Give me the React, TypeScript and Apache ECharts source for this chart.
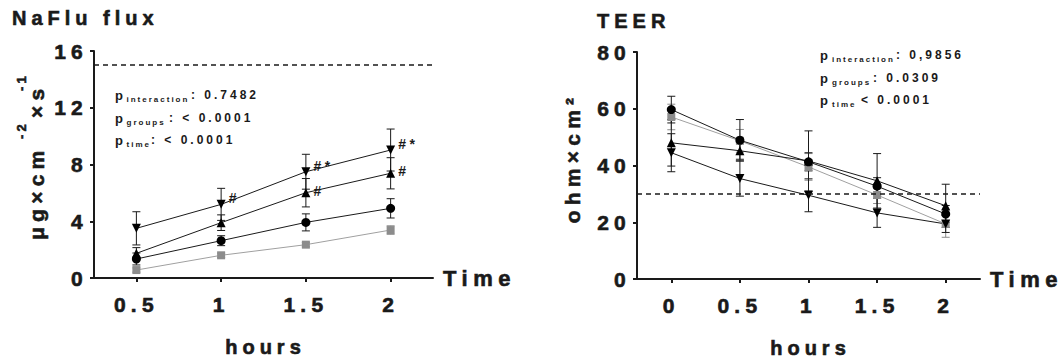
import React, { useEffect, useRef } from "react";
import * as echarts from "echarts";

// ---------- data ----------
const fluxTimes = ["0.5", "1", "1.5", "2"];
const teerTimes = ["0", "0.5", "1", "1.5", "2"];

const fluxDown = [3.5, 5.19, 7.49, 9.02];
const fluxDownSd = [1.17, 1.13, 1.23, 1.48];
const fluxUp = [1.74, 3.9, 6.01, 7.38];
const fluxUpSd = [0.4, 0.55, 1.0, 1.1];
const fluxCircle = [1.34, 2.63, 3.92, 4.91];
const fluxCircleSd = [0.42, 0.35, 0.6, 0.68];
const fluxSquare = [0.56, 1.6, 2.35, 3.38];
const fluxSquareSd = [0.15, 0.15, 0.15, 0.3];
const fluxDownMarks = ["", "#", "#*", "#*"];
const fluxUpMarks = ["", "", "#", "#"];
const fluxLimit = 15;
const fluxMax = 16;
const fluxStep = 4;

const teerCircle = [59.7, 48.9, 41.3, 32.7, 22.9];
const teerCircleSd = [4.7, 7.3, 3.2, 3, 3];
const teerSquare = [57.1, 48.7, 39.5, 29.6, 19.4];
const teerSquareSd = [4.5, 4, 4.7, 3, 4.7];
const teerUp = [48, 45.2, 41.6, 34.6, 25.8];
const teerUpSd = [8.2, 3, 10.6, 9.6, 7.6];
const teerDown = [44.5, 35.4, 29.5, 23.3, 19.4];
const teerDownSd = [6.7, 6.2, 5.8, 5.1, 3];
const teerLimit = 30;
const teerMax = 80;
const teerStep = 20;

const fluxTitle = "NaFlu flux";
const teerTitle = "TEER";
const xUnit = "hours";
const xName = "Time";
const fluxStats = [
  ["p", "interaction", ": 0.7482"],
  ["p", "groups", ": < 0.0001"],
  ["p", "time", ": < 0.0001"],
];
const teerStats = [
  ["p", "interaction", ": 0,9856"],
  ["p", "groups", ": 0.0309"],
  ["p", "time", "< 0.0001"],
];

// ---------- styling ----------
const FONT = "'Liberation Sans', Arial, sans-serif";
const INK = "#1a1a1a";
const GREY = "#8c8c8c";
const GREY_LINE = "#a0a0a0";
const HEAVY = { textBorderColor: INK, textBorderWidth: 0.6 };

const G1 = { left: 94, top: 51, width: 339, height: 227 };
const G2 = { left: 637, top: 52, width: 343, height: 227 };

function errorSeries(values: number[], sds: number[], idx: number, color: string) {
  return {
    type: "custom",
    xAxisIndex: idx,
    yAxisIndex: idx,
    silent: true,
    z: 2,
    data: values.map((v, i) => [i, v - sds[i], v + sds[i]]),
    encode: { x: 0, y: [1, 2] },
    renderItem: (params: any, api: any) => {
      const lo = api.coord([api.value(0), api.value(1)]);
      const hi = api.coord([api.value(0), api.value(2)]);
      const hw = 4;
      const style = { stroke: color, lineWidth: 1 };
      return {
        type: "group",
        children: [
          { type: "line", shape: { x1: lo[0], y1: lo[1], x2: hi[0], y2: hi[1] }, style },
          { type: "line", shape: { x1: hi[0] - hw, y1: hi[1], x2: hi[0] + hw, y2: hi[1] }, style },
          { type: "line", shape: { x1: lo[0] - hw, y1: lo[1], x2: lo[0] + hw, y2: lo[1] }, style },
        ],
      };
    },
  };
}

function lineSeries(
  values: number[],
  idx: number,
  symbol: string,
  rotate: number,
  color: string,
  lineColor: string,
  marks?: string[],
  offsetY?: number,
  limit?: number
) {
  const s: any = {
    type: "line",
    xAxisIndex: idx,
    yAxisIndex: idx,
    data: values,
    symbol,
    symbolRotate: rotate,
    symbolSize: symbol === "circle" ? 9 : symbol === "rect" ? 8 : 9,
    itemStyle: { color, opacity: 1 },
    lineStyle: { color: lineColor, width: 1 },
    z: 3,
    silent: true,
  };
  if (marks) {
    s.label = {
      show: true,
      position: "right",
      distance: 3,
      offset: [0, offsetY || 0],
      formatter: (p: any) => marks[p.dataIndex],
      fontSize: 14,
      fontWeight: "bold",
      fontFamily: FONT,
      color: INK,
    };
  }
  if (limit !== undefined) {
    s.markLine = {
      silent: true,
      symbol: "none",
      label: { show: false },
      lineStyle: { type: [5, 4], color: INK, width: 1.5 },
      data: [{ yAxis: limit }],
    };
  }
  return s;
}

function xAxis(idx: number, data: string[]) {
  return {
    gridIndex: idx,
    type: "category",
    data,
    boundaryGap: true,
    name: xName,
    nameLocation: "end",
    nameGap: 10,
    nameTextStyle: { fontSize: 22, fontWeight: "bold", fontFamily: FONT, color: INK, verticalAlign: "middle", ...HEAVY },
    axisLine: { show: true, lineStyle: { color: INK, width: 2 } },
    axisTick: { show: true, alignWithLabel: true, length: 4, lineStyle: { color: INK, width: 2 } },
    axisLabel: { interval: 0, fontSize: 21, fontWeight: "bold", fontFamily: FONT, color: INK, margin: 16, ...HEAVY },
    splitLine: { show: false },
  };
}

function yAxis(idx: number, max: number, step: number) {
  return {
    gridIndex: idx,
    type: "value",
    min: 0,
    max,
    interval: step,
    axisLine: { show: true, lineStyle: { color: INK, width: 2 } },
    axisTick: { show: true, length: 4, lineStyle: { color: INK, width: 2 } },
    axisLabel: { fontSize: 21, fontWeight: "bold", fontFamily: FONT, color: INK, margin: 6, ...HEAVY },
    splitLine: { show: false },
  };
}

function txt(x: number, y: number, text: string, size: number, extra: any = {}, rotation = 0) {
  const align = extra.align || "left";
  const heavy = extra.heavy ? { stroke: INK, lineWidth: 0.6 } : {};
  return {
    type: "text",
    x,
    y,
    rotation,
    silent: true,
    style: {
      text,
      fontSize: size,
      fontWeight: "bold",
      fontFamily: FONT,
      fill: INK,
      align,
      textAlign: align,
      verticalAlign: "middle",
      textVerticalAlign: "middle",
      ...heavy,
    },
  };
}

function statsBlock(rows: string[][], x: number, ys: number[], subX: number, restX: number[]) {
  const out: any[] = [];
  rows.forEach((r, i) => {
    out.push(txt(x, ys[i], r[0], 13));
    out.push(txt(subX, ys[i] + 4, r[1], 8));
    out.push(txt(restX[i], ys[i], r[2], 12));
  });
  return out;
}

export default function App() {
  const ref = useRef<HTMLDivElement>(null);
  useEffect(() => {
    document.body.style.margin = "0";
    if (!ref.current) return;
    const chart = echarts.init(ref.current, undefined, { renderer: "svg" });
    const graphic: any[] = [
      txt(12, 18, fluxTitle, 20, { heavy: true }),
      txt(597, 21, teerTitle, 20, { heavy: true }),
      txt(G1.left + G1.width / 2 + 2, 347, xUnit, 20, { align: "center", heavy: true }),
      txt(G2.left + G2.width / 2 + 2, 348, xUnit, 20, { align: "center", heavy: true }),
      // left y-axis title with superscripts
      txt(36, 240, "μg×cm", 21, { heavy: true }, Math.PI / 2),
      txt(21, 139, "-2", 13, { heavy: true }, Math.PI / 2),
      txt(36, 118, "×s", 21, { heavy: true }, Math.PI / 2),
      txt(21, 91, "-1", 13, { heavy: true }, Math.PI / 2),
      // right y-axis title
      txt(572, 158, "ohm×cm²", 21, { align: "center", heavy: true }, Math.PI / 2),
      ...statsBlock(fluxStats, 115, [95, 118, 140], 126.5, [191, 169, 151]),
      ...statsBlock(teerStats, 820, [55, 78, 100], 832, [896, 873, 861]),
    ];

    chart.setOption({
      animation: false,
      grid: [
        { ...G1, containLabel: false },
        { ...G2, containLabel: false },
      ],
      xAxis: [xAxis(0, fluxTimes), xAxis(1, teerTimes)],
      yAxis: [yAxis(0, fluxMax, fluxStep), yAxis(1, teerMax, teerStep)],
      graphic,
      series: [
        errorSeries(fluxSquare, fluxSquareSd, 0, GREY),
        errorSeries(fluxCircle, fluxCircleSd, 0, INK),
        errorSeries(fluxUp, fluxUpSd, 0, INK),
        errorSeries(fluxDown, fluxDownSd, 0, INK),
        lineSeries(fluxSquare, 0, "rect", 0, GREY, GREY_LINE, undefined, 0, fluxLimit),
        lineSeries(fluxCircle, 0, "circle", 0, "#000", INK),
        lineSeries(fluxUp, 0, "triangle", 0, "#000", INK, fluxUpMarks, -2),
        lineSeries(fluxDown, 0, "triangle", 180, "#000", INK, fluxDownMarks, -6),

        errorSeries(teerSquare, teerSquareSd, 1, GREY),
        errorSeries(teerCircle, teerCircleSd, 1, INK),
        errorSeries(teerUp, teerUpSd, 1, INK),
        errorSeries(teerDown, teerDownSd, 1, INK),
        lineSeries(teerSquare, 1, "rect", 0, GREY, GREY_LINE, undefined, 0, teerLimit),
        lineSeries(teerCircle, 1, "circle", 0, "#000", INK),
        lineSeries(teerUp, 1, "triangle", 0, "#000", INK),
        lineSeries(teerDown, 1, "triangle", 180, "#000", INK),
      ],
    });
    return () => chart.dispose();
  }, []);

  return (
    <>
      <style>{`.rc text { letter-spacing: 0.25em; }`}</style>
      <div className="rc" ref={ref} style={{ width: 1062, height: 362 }} />
    </>
  );
}
